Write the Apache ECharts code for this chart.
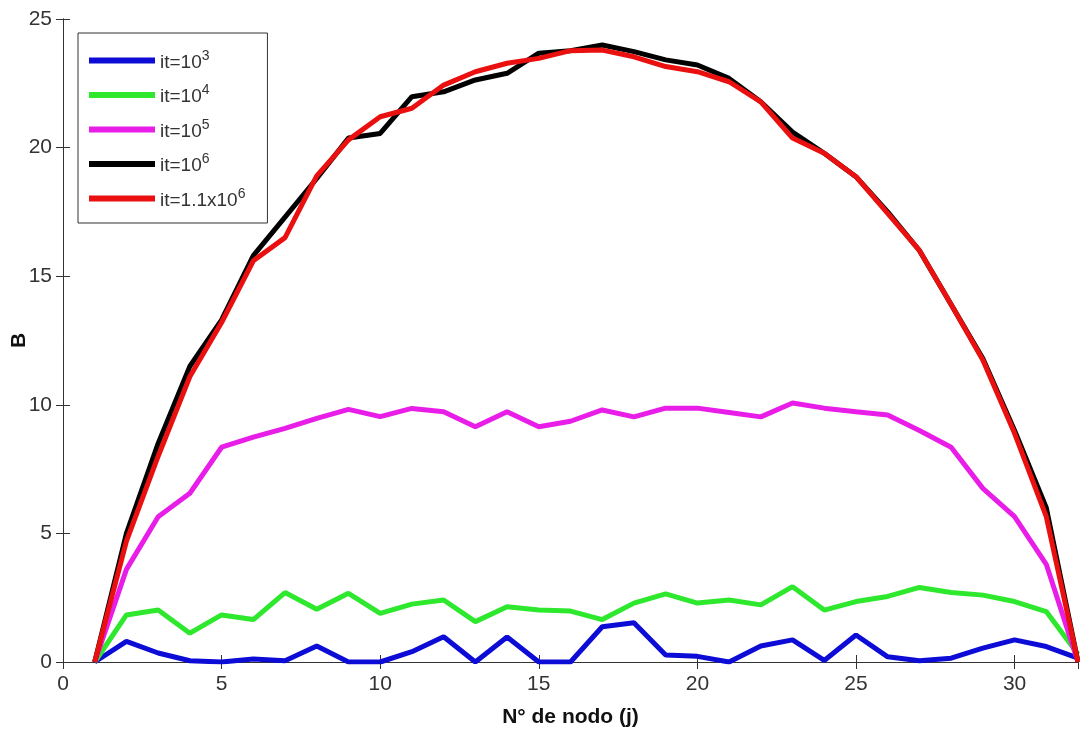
<!DOCTYPE html>
<html>
<head>
<meta charset="utf-8">
<script src="https://cdn.jsdelivr.net/npm/echarts@6/dist/echarts.min.js"></script>
<style>
  html, body {margin: 0; padding: 0; background: #fff;}
  #main {width: 1080px; height: 736px;}
</style>
</head>
<body>
<div id="main"></div>
<script>
const nodes = [1, 2, 3, 4, 5, 6, 7, 8, 9, 10, 11, 12, 13, 14, 15, 16,
  17, 18, 19, 20, 21, 22, 23, 24, 25, 26, 27, 28, 29, 30, 31, 32];

const it1e3 = [0, 0.8, 0.35, 0.05, 0, 0.12, 0.05, 0.62, 0, 0, 0.4, 0.98, 0, 0.97, 0, 0,
  1.37, 1.53, 0.27, 0.22, 0, 0.62, 0.86, 0.06, 1.05, 0.2, 0.05, 0.15, 0.54, 0.86, 0.6, 0.15];
const it1e4 = [0, 1.83, 2.02, 1.12, 1.83, 1.65, 2.7, 2.05, 2.67, 1.89, 2.25, 2.41, 1.57, 2.15, 2.02, 1.98,
  1.65, 2.29, 2.65, 2.29, 2.41, 2.22, 2.93, 2.02, 2.35, 2.55, 2.9, 2.7, 2.6, 2.35, 1.96, 0.3];
const it1e5 = [0, 3.6, 5.65, 6.56, 8.35, 8.74, 9.08, 9.47, 9.82, 9.54, 9.86, 9.73, 9.15, 9.73, 9.15, 9.36,
  9.8, 9.53, 9.87, 9.87, 9.7, 9.53, 10.07, 9.87, 9.73, 9.6, 9.0, 8.35, 6.75, 5.65, 3.8, 0];
const it1e6 = [0, 5.0, 8.5, 11.5, 13.3, 15.8, 17.3, 18.8, 20.37, 20.55, 21.98, 22.17, 22.63, 22.89, 23.67, 23.77,
  23.99, 23.73, 23.41, 23.21, 22.69, 21.78, 20.6, 19.78, 18.87, 17.5, 16.0, 13.9, 11.8, 9.0, 6.0, 0];
const it11e6 = [0, 4.7, 8.0, 11.1, 13.2, 15.6, 16.5, 18.9, 20.3, 21.2, 21.53, 22.43, 22.95, 23.28, 23.47, 23.77,
  23.79, 23.53, 23.15, 22.95, 22.56, 21.78, 20.37, 19.78, 18.87, 17.44, 16.0, 13.9, 11.74, 8.89, 5.65, 0];

const legendNames = ['it=10^3', 'it=10^4', 'it=10^5', 'it=10^6', 'it=1.1x10^6'];
const colors = ['#0c0cd6', '#2ee82e', '#e81ee8', '#000000', '#ea1010'];
const seriesValues = [it1e3, it1e4, it1e5, it1e6, it11e6];

function pairs(vals) {
  return nodes.map((n, i) => [n, vals[i]]);
}

const chart = echarts.init(document.getElementById('main'));

const fontName = 'Liberation Sans, Arial, sans-serif';
const axisFont = {
  fontFamily: fontName,
  fontSize: 21,
  color: '#333'
};

let series = seriesValues.map((vals, i) => {
  return {
    type: 'line',
    name: legendNames[i],
    data: pairs(vals),
    symbol: 'none',
    lineStyle: {color: colors[i], width: 5},
    itemStyle: {color: colors[i]},
    emphasis: {disabled: true},
    z: 2 + i
  };
});

const option = {
  animation: false,
  backgroundColor: '#fff',
  grid: {left: 63, right: 2, top: 19, bottom: 74, containLabel: false, outerBoundsMode: 'none'},
  legend: {
    orient: 'vertical',
    left: 78,
    top: 33,
    data: legendNames,
    itemWidth: 66,
    itemHeight: 6,
    itemGap: 11.5,
    icon: 'rect',
    borderColor: '#333',
    borderWidth: 1,
    padding: [16, 22, 13, 11],
    backgroundColor: '#fff',
    formatter: function (name) {
      let parts = name.split('^');
      return '{b|' + parts[0] + '}{s|' + parts[1] + '}';
    },
    textStyle: {
      rich: {
        b: {fontFamily: fontName, fontSize: 19, color: '#333', lineHeight: 23, verticalAlign: 'bottom'},
        s: {fontFamily: fontName, fontSize: 14, color: '#333', lineHeight: 23, verticalAlign: 'top', padding: [0, 0, 8, 0]}
      }
    }
  },
  xAxis: [
    {
      type: 'value',
      min: 0,
      max: 32,
      interval: 5,
      name: 'N° de nodo (j)',
      nameLocation: 'middle',
      nameGap: 45,
      nameTextStyle: {fontFamily: fontName, fontSize: 21, fontWeight: 'bold', color: '#111'},
      axisLine: {show: true, lineStyle: {color: '#333', width: 1}},
      axisTick: {show: true, inside: true, length: 7, lineStyle: {color: '#333'}},
      axisLabel: Object.assign({margin: 12, showMaxLabel: false}, axisFont),
      splitLine: {show: false}
    },
    {
      type: 'value',
      position: 'top',
      min: 0,
      max: 32,
      interval: 5,
      axisLine: {show: true, lineStyle: {color: '#333', width: 1}},
      axisTick: {show: true, inside: true, length: 7, lineStyle: {color: '#333'}},
      axisLabel: {show: false},
      splitLine: {show: false}
    }
  ],
  yAxis: [
    {
      type: 'value',
      min: 0,
      max: 25,
      interval: 5,
      name: 'B',
      nameLocation: 'middle',
      nameGap: 33,
      nameMoveOverlap: false,
      nameTextStyle: {fontFamily: fontName, fontSize: 21, fontWeight: 'bold', color: '#111'},
      axisLine: {show: true, lineStyle: {color: '#333', width: 1}},
      axisTick: {show: true, inside: true, length: 7, lineStyle: {color: '#333'}},
      axisLabel: Object.assign({margin: 11}, axisFont),
      splitLine: {show: false}
    },
    {
      type: 'value',
      position: 'right',
      min: 0,
      max: 25,
      interval: 5,
      axisLine: {show: true, lineStyle: {color: '#333', width: 1}},
      axisTick: {show: true, inside: true, length: 7, lineStyle: {color: '#333'}},
      axisLabel: {show: false},
      splitLine: {show: false}
    }
  ],
  series: series
};

chart.setOption(option);
</script>
</body>
</html>
